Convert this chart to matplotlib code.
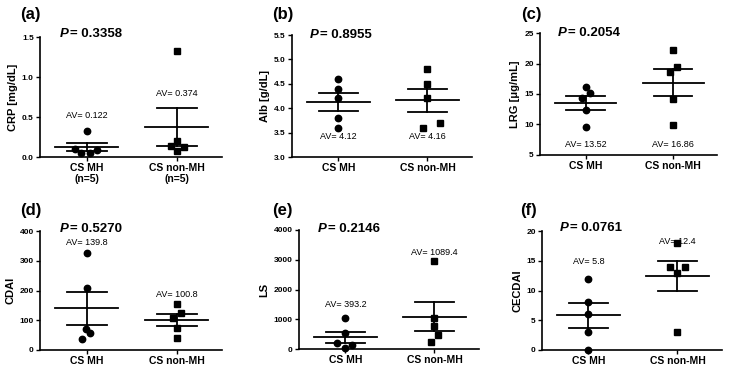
import numpy as np
import matplotlib
matplotlib.use('Agg')
import matplotlib.pyplot as plt

plt.rcParams['font.family'] = ['Liberation Sans', 'DejaVu Sans']

# data
panels = ['(a)', '(b)', '(c)', '(d)', '(e)', '(f)']
ylabels = ['CRP [mg/dL]', 'Alb [g/dL]', 'LRG [μg/mL]', 'CDAI', 'LS', 'CECDAI']
p_values = ['0.3358', '0.8955', '0.2054', '0.5270', '0.2146', '0.0761']
mh_vals = [
    [0.32, 0.10, 0.09, 0.05, 0.05],
    [4.6, 4.4, 4.2, 3.8, 3.6],
    [16.1, 15.2, 14.3, 12.4, 9.6],
    [327, 207, 70, 58, 37],
    [1030, 540, 210, 140, 46],
    [12, 8, 6, 3, 0],
]
nonmh_vals = [
    [1.33, 0.20, 0.14, 0.13, 0.07],
    [4.8, 4.5, 4.2, 3.7, 3.6],
    [22.2, 19.4, 18.6, 14.2, 9.9],
    [155, 125, 108, 75, 41],
    [2950, 1030, 780, 460, 227],
    [18, 14, 14, 13, 3],
]
av_mh = ['0.122', '4.12', '13.52', '139.8', '393.2', '5.8']
av_nonmh = ['0.374', '4.16', '16.86', '100.8', '1089.4', '12.4']
# jitter offsets (category units) to mimic the scatter layout
mh_jit = [
    [0, -0.13, 0.11, -0.06, 0.04],
    [0, 0, 0, 0, 0],
    [0, 0.05, -0.04, 0, 0],
    [0, 0, -0.01, 0.04, -0.05],
    [0, 0, -0.09, 0.08, 0],
    [0, 0, 0, 0, 0],
]
nonmh_jit = [
    [0, 0, -0.07, 0.08, 0],
    [0, 0, 0, 0.14, -0.05],
    [0, 0.04, -0.04, 0, 0],
    [0, 0.04, -0.04, 0, 0],
    [0, 0, 0, 0.04, -0.04],
    [0, -0.08, 0.08, 0, 0],
]
ylims = [(0, 1.5), (3.0, 5.5), (5, 25), (0, 400), (0, 4000), (0, 20)]
yticks = [np.arange(0, 1.51, 0.5), np.arange(3.0, 5.51, 0.5), np.arange(5, 26, 5),
          np.arange(0, 401, 100), np.arange(0, 4001, 1000), np.arange(0, 21, 5)]
yfmt = ['{:.1f}', '{:.1f}', '{:.0f}', '{:.0f}', '{:.0f}', '{:.0f}']
av_y_mh = [0.52, 3.41, 6.8, 360, 1480, 14.8]
av_y_nonmh = [0.79, 3.41, 6.8, 185, 3260, 18.2]

W, H = 730, 369
fig = plt.figure(figsize=(7.3, 3.69), dpi=100)

# axes boxes in pixels: left, top, right, bottom
boxes = [(40, 37, 222, 157), (292, 35, 472, 157), (540, 33, 717, 155),
         (40, 231, 222, 350), (299, 230, 479, 349), (542, 231, 722, 350)]
p_pos = [(60, 34), (310, 35), (558, 33), (60, 229), (318, 229), (560, 228)]
lab_pos = [(20, 15), (272, 15), (521, 15), (20, 210), (272, 210), (520, 210)]

for i in range(6):
    l, t, r, b = boxes[i]
    ax = fig.add_axes([l / W, 1 - b / H, (r - l) / W, (b - t) / H])
    for j, (vals, jit, mk, ms) in enumerate([(mh_vals[i], mh_jit[i], 'o', 4.6),
                                             (nonmh_vals[i], nonmh_jit[i], 's', 4.2)]):
        v = np.array(vals)
        ax.plot(j + np.array(jit), v, mk, color='black', ms=ms, zorder=3, clip_on=False)
        m = v.mean()
        sem = v.std(ddof=1) / np.sqrt(len(v))
        ax.plot([j - 0.35, j + 0.35], [m, m], color='black', lw=1.3)
        ax.plot([j - 0.22, j + 0.22], [m + sem, m + sem], color='black', lw=1.3)
        ax.plot([j - 0.22, j + 0.22], [m - sem, m - sem], color='black', lw=1.3)
        ax.plot([j, j], [m - sem, m + sem], color='black', lw=1.3)
    ax.text(0, av_y_mh[i], 'AV= ' + av_mh[i], ha='center', va='center', fontsize=6.5)
    ax.text(1, av_y_nonmh[i], 'AV= ' + av_nonmh[i], ha='center', va='center', fontsize=6.5)

    ax.set_xlim(-0.52, 1.5)
    ax.set_ylim(*ylims[i])
    ax.set_yticks(yticks[i])
    ax.set_yticklabels([yfmt[i].format(y) for y in yticks[i]], fontsize=6, fontweight='bold')
    ax.set_xticks([0, 1])
    if i == 0:
        ax.set_xticklabels(['CS MH\n(n=5)', 'CS non-MH\n(n=5)'], fontsize=7.5, fontweight='bold',
                           linespacing=1.15)
    else:
        ax.set_xticklabels(['CS MH', 'CS non-MH'], fontsize=7.5, fontweight='bold')
    ax.set_ylabel(ylabels[i], fontsize=8, fontweight='bold', labelpad=3)
    ax.spines['top'].set_visible(False)
    ax.spines['right'].set_visible(False)
    ax.spines['left'].set_linewidth(1.2)
    ax.spines['bottom'].set_linewidth(1.2)
    ax.tick_params(axis='both', length=3, width=1, pad=1.5)

    px, py = p_pos[i]
    fig.text(px / W, 1 - py / H, 'P', fontsize=9.5, fontweight='bold', fontstyle='italic',
             va='center')
    fig.text((px + 10) / W, 1 - py / H, '= ' + p_values[i], fontsize=9.5,
             fontweight='bold', va='center')
    lx, ly = lab_pos[i]
    fig.text(lx / W, 1 - ly / H, panels[i], fontsize=12, fontweight='bold', va='center')

fig.savefig('out.png', dpi=100)
